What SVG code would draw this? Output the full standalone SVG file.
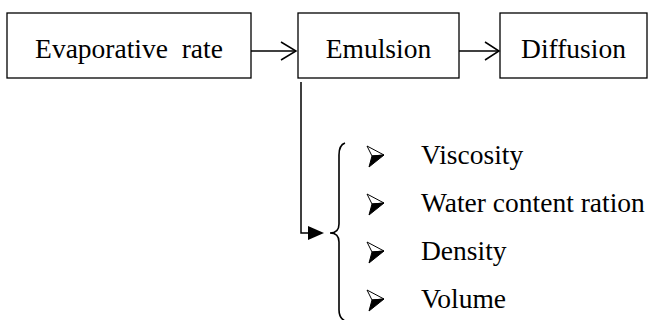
<svg xmlns="http://www.w3.org/2000/svg" xmlns:xlink="http://www.w3.org/1999/xlink" width="651" height="320" viewBox="0 0 651 320">
  <style>
    .box { fill: #ffffff; stroke: #000000; stroke-width: 1.3; }
    .label { font-family: "Liberation Serif", "Times New Roman", serif; font-size: 27.5px; fill: #000000; }
    .wire { fill: none; stroke: #000000; stroke-width: 1.5; }
    .brace { fill: none; stroke: #000000; stroke-width: 1.6; }
  </style>
  <defs>
    <!-- 3D arrowhead bullet: light upper facet, dark lower facet -->
    <g id="bullet">
      <path d="M0,-9 L17,0 L5,1 Z" fill="#ffffff" stroke="#000000" stroke-width="1" stroke-linejoin="round"/>
      <path d="M5,1 L17,0 L2,12 Z" fill="#000000" stroke="#000000" stroke-width="1" stroke-linejoin="round"/>
    </g>
  </defs>

  <g id="node-evaporative-rate">
    <rect class="box" x="7" y="13" width="244" height="65"/>
    <text class="label" x="129" y="58" text-anchor="middle" xml:space="preserve">Evaporative  rate</text>
  </g>

  <g id="node-emulsion">
    <rect class="box" x="298" y="13" width="161" height="65"/>
    <text class="label" x="378.5" y="58" text-anchor="middle">Emulsion</text>
  </g>

  <g id="node-diffusion">
    <rect class="box" x="500" y="13" width="147" height="65"/>
    <text class="label" x="573.5" y="58" text-anchor="middle">Diffusion</text>
  </g>

  <g id="connectors">
    <!-- Evaporative rate -> Emulsion -->
    <line class="wire" x1="251" y1="51" x2="296" y2="51"/>
    <polyline class="wire" points="281,42 296,51 281,60"/>
    <!-- Emulsion -> Diffusion -->
    <line class="wire" x1="459" y1="51" x2="499" y2="51"/>
    <polyline class="wire" points="485,42 499,51 485,60"/>
    <!-- Emulsion -> property list -->
    <polyline class="wire" points="301,82 301,233 310,233"/>
    <polygon points="308,226 324,233 308,240" fill="#000000"/>
  </g>

  <g id="node-properties">
    <path class="brace" d="M345,143 Q339,145 339,155 L339,224 Q339,233 330,233 Q339,233 339,242 L339,310 Q339,318 345,321"/>
    <use xlink:href="#bullet" x="367" y="155"/>
    <use xlink:href="#bullet" x="367" y="203"/>
    <use xlink:href="#bullet" x="367" y="251"/>
    <use xlink:href="#bullet" x="367" y="299"/>
    <text class="label" x="421" y="164">Viscosity</text>
    <text class="label" x="421" y="212">Water content ration</text>
    <text class="label" x="421" y="260">Density</text>
    <text class="label" x="421" y="308">Volume</text>
  </g>
</svg>
